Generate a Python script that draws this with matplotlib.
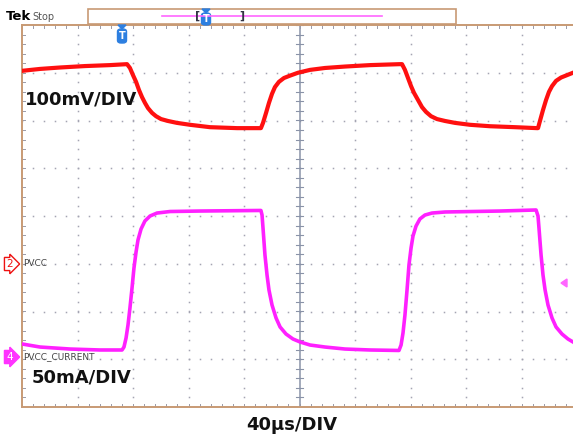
import matplotlib.pyplot as plt
import matplotlib.patches as mpatches
import numpy as np

# PVCC voltage trace (channel 2, 100 mV/div), time in us, value in mV above the ch2 marker
pvcc_t = [0, 13.0, 27.4, 45.4, 63.4, 75.7, 77.8, 80.0, 82.2, 84.3, 86.5, 88.6, 90.8,
          93.7, 96.6, 100.2, 105.2, 111.7, 121.1, 135.5, 155.0,
          172.2, 173.7, 175.9, 178.0, 180.2, 182.3, 185.2, 188.8, 193.2, 198.9,
          207.6, 218.4, 232.8, 250.8, 272.4,
          273.9, 276.0, 278.2, 280.4, 282.5, 285.4, 288.3, 291.2, 294.8, 299.1,
          304.9, 312.1, 322.9, 337.3, 355.3, 371.2,
          371.9, 373.3, 375.5, 377.7, 379.8, 382.0, 384.9, 388.5, 392.8, 397.1]
pvcc_mv = [404, 408, 411, 414, 416, 418, 410, 395, 381, 364, 349, 337, 326,
           316, 309, 303, 299, 295, 291, 286, 284,
           284, 295, 316, 337, 356, 370, 381, 389, 394, 400,
           406, 410, 413, 416, 418,
           418, 406, 389, 372, 358, 343, 328, 318, 309, 303,
           299, 295, 291, 288, 286, 284,
           284, 299, 322, 343, 360, 372, 383, 390, 395, 400]

# PVCC_CURRENT trace (channel 4, 50 mA/div), value in mA above the ch4 marker
cur_t = [0, 13.0, 34.6, 56.2, 72.1, 73.5, 75.0, 76.4, 77.8, 79.3, 80.7, 82.2, 83.6,
         85.8, 88.6, 92.3, 97.3, 106.7, 128.3, 172.2,
         173.0, 173.7, 175.1, 176.6, 178.0, 180.2, 183.1, 186.0, 190.3, 195.3,
         200.4, 207.6, 218.4, 232.8, 250.8, 271.7,
         273.2, 274.6, 276.0, 277.5, 278.9, 280.4, 281.8, 284.0, 286.8, 290.4,
         295.5, 304.9, 344.5, 370.5,
         371.9, 372.6, 374.1, 375.5, 377.0, 379.1, 382.0, 384.9, 389.2, 393.5, 397.1]
cur_ma = [16.0, 12.8, 10.7, 9.7, 9.7, 12.8, 22.3, 35.9, 53.7, 74.6, 95.6, 112.3, 124.9,
          136.4, 144.8, 150.0, 153.1, 154.7, 155.2, 155.8,
          151.0, 137.4, 109.2, 88.2, 72.5, 56.8, 43.2, 33.8, 26.4, 21.2,
          18.1, 14.9, 12.8, 10.7, 9.7, 9.2,
          14.9, 27.5, 46.3, 72.5, 98.7, 116.5, 129.1, 139.5, 146.9, 151.0,
          153.1, 154.2, 155.2, 156.3,
          150.0, 137.4, 109.2, 88.2, 72.5, 56.8, 43.2, 33.8, 26.4, 21.2, 18.1]

ch2_offset = -1.0   # divisions
ch4_offset = -3.0
volts_per_div = 100.0
amps_per_div = 50.0
us_per_div = 40.0

W, H = 573, 437
fig = plt.figure(figsize=(W / 100, H / 100), dpi=100)


def fx(x):
    return x / W


def fy(y):
    return 1 - y / H


# graticule box: left 22, top 25, bottom 407, right 577 (cut off)
ax = fig.add_axes([fx(22), fy(407), 555 / W, 382 / H])
ax.set_xlim(0, 10 * us_per_div)
ax.set_ylim(-4, 4)
ax.axis('off')

dot_c = '#a4a4b2'
# dotted division lines
for k in range(1, 10):
    if k == 5:
        continue
    yy = np.arange(-4, 4.01, 0.2)
    ax.plot(np.full_like(yy, k * us_per_div), yy, ls='none', marker='s',
            ms=1.1, color=dot_c, mew=0)
for k in range(-3, 4):
    xx = np.arange(0, 400.1, 8)
    ax.plot(xx, np.full_like(xx, k), ls='none', marker='s', ms=1.1,
            color=dot_c, mew=0)

# solid centre line with minor ticks
ax.plot([200, 200], [-4, 4], color='#8a93a8', lw=1.1)
for yy in np.arange(-4, 4.01, 0.2):
    ax.plot([197.5, 202.5], [yy, yy], color='#8a93a8', lw=0.8)

# edge ticks
for xx in np.arange(0, 400.1, 8):
    ax.plot([xx, xx], [4, 3.93], color='#9a9aa8', lw=0.7)
    ax.plot([xx, xx], [-4, -3.93], color='#9a9aa8', lw=0.7)
for yy in np.arange(-4, 4.01, 0.2):
    ax.plot([0, 2.2], [yy, yy], color='#9a9aa8', lw=0.7)

# border
bc = '#c89a74'
ax.plot([0, 400], [4, 4], color=bc, lw=1.4, clip_on=False)
ax.plot([0, 400], [-4, -4], color=bc, lw=1.4, clip_on=False)
ax.plot([0, 0], [-4, 4], color=bc, lw=1.4, clip_on=False)

# traces
v_div = np.array(pvcc_mv) / volts_per_div + ch2_offset
i_div = np.array(cur_ma) / amps_per_div + ch4_offset
ax.plot(pvcc_t, v_div, color='#ff1010', lw=3.0, solid_joinstyle='round')
ax.plot(cur_t, i_div, color='#ff20ff', lw=2.6, solid_joinstyle='round')

# top status bar
fig.text(fx(6), fy(17), 'Tek', fontsize=9.5, fontweight='bold', color='black',
         va='center', family='DejaVu Sans Condensed')
fig.text(fx(32), fy(17), 'Stop', fontsize=7, color='#555555', va='center',
         family='DejaVu Sans Condensed')
fig.patches.append(mpatches.Rectangle((fx(88), fy(24)), fx(368), 15 / H,
                                      transform=fig.transFigure, fill=False,
                                      ec=bc, lw=1.2))
fig.lines.append(plt.Line2D([fx(162), fx(382)], [fy(15.5), fy(15.5)],
                            transform=fig.transFigure, color='#ff66ff', lw=1.2))
for bx, s in [(198, '['), (242, ']')]:
    fig.text(fx(bx), fy(16), s, fontsize=8, color='#333344', ha='center',
             va='center', fontweight='bold')


def trig_marker(x, y_top, h):
    fig.patches.append(mpatches.Polygon(
        [(fx(x - 4), fy(y_top)), (fx(x + 4), fy(y_top)), (fx(x), fy(y_top + 4))],
        closed=True, transform=fig.transFigure, color='#2d7fe0'))
    fig.patches.append(mpatches.FancyBboxPatch(
        (fx(x - 4.5), fy(y_top + 4 + h)), 9 / W, h / H,
        boxstyle='round,pad=0,rounding_size=0.006', transform=fig.transFigure,
        color='#2d7fe0'))
    fig.text(fx(x), fy(y_top + 4 + h / 2), 'T', fontsize=7, fontweight='bold',
             color='white', ha='center', va='center')


trig_marker(206, 9, 12)
trig_marker(122, 25, 14)

# channel markers
fig.text(fx(6), fy(264), '2', fontsize=7.5, color='#ee1111', va='center',
         bbox=dict(boxstyle='rarrow,pad=0.15', fc='white', ec='#ee1111', lw=1))
fig.text(fx(23), fy(264), 'PVCC', fontsize=6.5, color='#444444', va='center',
         family='DejaVu Sans Condensed')
fig.text(fx(6), fy(357), '4', fontsize=7.5, color='white', va='center',
         bbox=dict(boxstyle='rarrow,pad=0.15', fc='#ff33ff', ec='#ff33ff', lw=1))
fig.text(fx(23), fy(357), 'PVCC_CURRENT', fontsize=6.5, color='#444444',
         va='center', family='DejaVu Sans Condensed')
fig.patches.append(mpatches.Polygon(
    [(fx(561), fy(283)), (fx(567), fy(279)), (fx(567), fy(287))], closed=True,
    transform=fig.transFigure, color='#ff66ff'))

# scale labels
fig.text(fx(25), fy(100), '100mV/DIV', fontsize=13, fontweight='bold',
         color='#111111', va='center')
fig.text(fx(32), fy(377), '50mA/DIV', fontsize=13, fontweight='bold',
         color='#111111', va='center')
fig.text(fx(292), fy(425), '40\u00b5s/DIV', fontsize=13, fontweight='bold',
         color='#111111', va='center', ha='center')

fig.savefig('out.png', dpi=100)
